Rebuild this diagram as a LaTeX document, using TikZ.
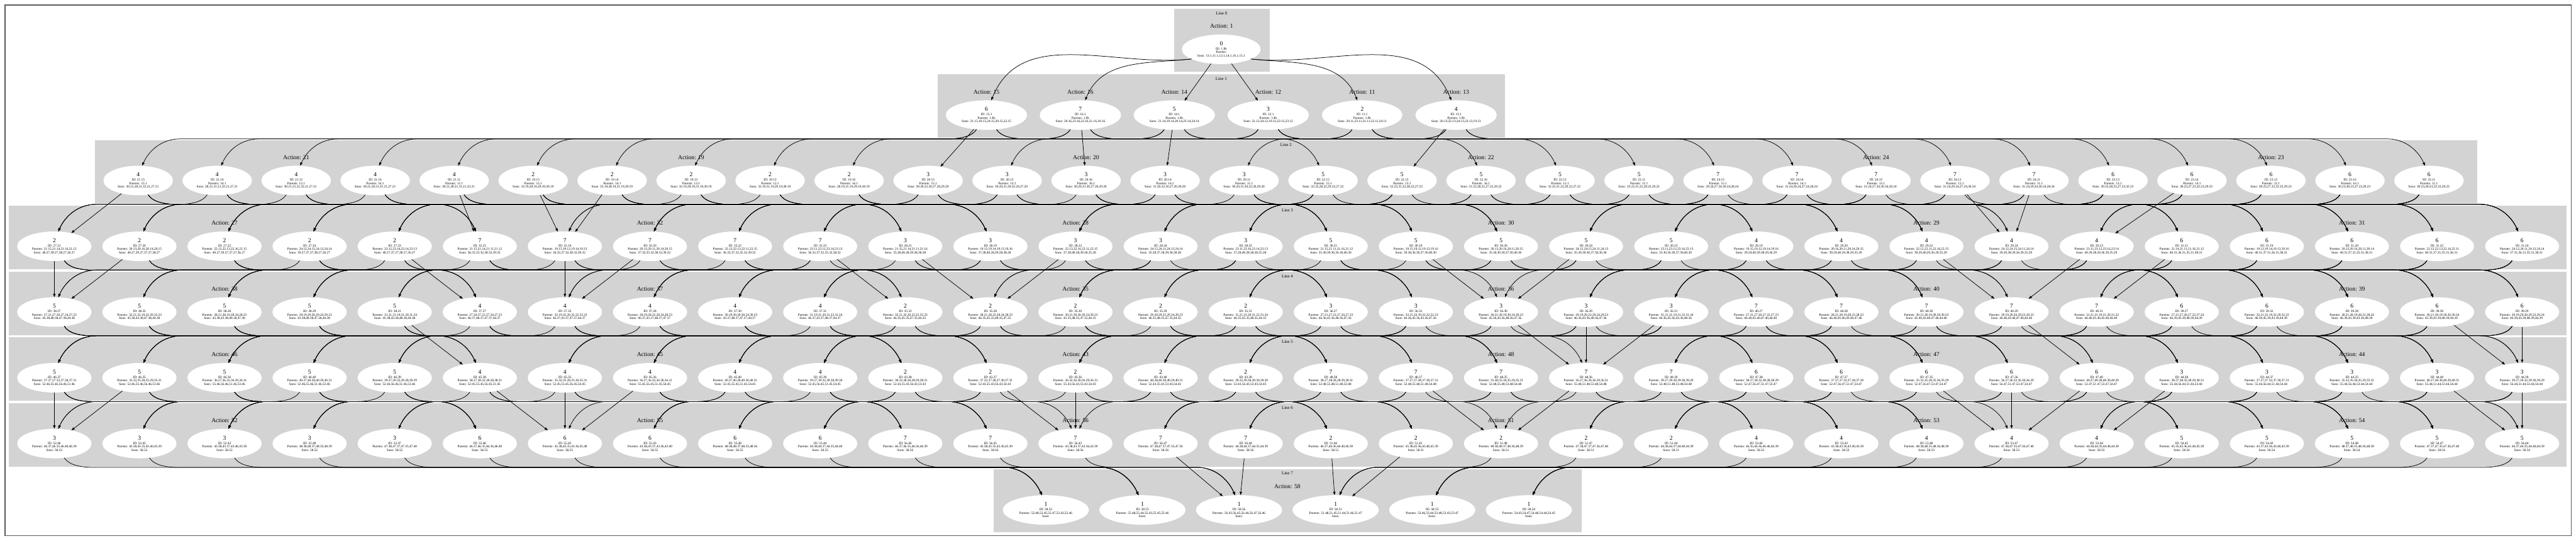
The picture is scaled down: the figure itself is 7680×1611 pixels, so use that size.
\documentclass[tikz,border=0pt]{standalone}
\usepackage{fontspec}
\setmainfont{Liberation Serif}
\usetikzlibrary{arrows.meta,shapes.geometric}
\definecolor{lgray}{HTML}{D3D3D3}
\newcommand\sfnt{\fontsize{10}{10.5}\selectfont}
\newcommand\bfnt{\fontsize{18}{18}\selectfont}
\newcommand\afnt{\fontsize{18}{20}\selectfont}
\newcommand\lfnt{\fontsize{13}{14}\selectfont}
\newif\ifedges \edgestrue
\newcount\gidx
\tikzset{
  nd/.style={ellipse, fill=white, draw=none, inner xsep=12bp, inner ysep=2bp, minimum height=88bp, align=center, font=\sfnt},
  edge/.style={line width=1.4bp, -{Triangle[length=10bp,width=7bp]}},
  clus/.style={fill=lgray, draw=lgray},
  alab/.style={font=\afnt, inner sep=0pt},
  llab/.style={font=\lfnt, inner sep=0pt},
}
% edge from parent (a.b) to current node \cname
\def\mke#1.#2\relax{%
  \edef\pa{#1-#2}%
  \edef\xa{\csname px@\pa\endcsname}%
  \edef\ya{\csname py@\pa\endcsname}%
  \edef\xb{\csname px@\cname\endcsname}%
  \pgfmathsetmacro\dx{\xb-\xa}%
  \pgfmathsetmacro\ad{abs(\dx)}%
  \pgfmathtruncatemacro\s{sign(\dx)}%
  \ifdim\ya pt<200pt
    \ifdim\ad pt<200pt \draw[edge] (\pa) -- (\cname);
    \else
      \pgfmathtruncatemacro\aa{-90+\s*72}%
      \pgfmathtruncatemacro\oo{-90+\s*84}%
      \pgfmathtruncatemacro\ii{90+\s*22}%
      \pgfmathtruncatemacro\ee{90+\s*18}%
      \draw[edge] (\pa.\aa) to[out=\oo,in=\ii] (\cname.\ee);
    \fi
  \else
    \ifdim\ad pt<300pt \draw[edge] (\pa) -- (\cname);
    \else
      \pgfmathtruncatemacro\aa{-90+\s*35}%
      \pgfmathtruncatemacro\ee{90+\s*15}%
      \pgfmathsetmacro\g{\ya+71}%
      \pgfmathsetmacro\xs{\xa+\s*115}%
      \pgfmathsetmacro\xe{\xb-\s*125}%
      \pgfmathsetmacro\ca{\s*12}%
      \pgfmathsetmacro\cb{-\s*40}%
      \pgfmathsetmacro\cc{\s*55}%
      \pgfmathsetmacro\cd{-\s*20}%
      \draw[edge] (\pa.\aa) .. controls +(\ca,20) and +(\cb,0) .. (\xs,\g) -- (\xe,\g) .. controls +(\cc,0) and +(\cd,-45) .. (\cname.\ee);
    \fi
  \fi}
% node: #1 index, #2 big number, #3 action, #4 suffix, #5 parents, #6 sons
\newcommand\mkn[6]{%
  \pgfmathsetmacro\nx{\Lx+#1*\Lp}%
  \node[nd] (#3-#4) at (\nx,\Ly) {{\bfnt #2}\\[3bp]ID: #3.#4\\Parents: #5\\Sons: #6};%
  \expandafter\xdef\csname px@#3-#4\endcsname{\nx}%
  \expandafter\xdef\csname py@#3-#4\endcsname{\Ly}%
  \def\cname{#3-#4}%
  \ifedges\foreach \p in {#5}{\expandafter\mke\p\relax}\fi
}
\newcommand\alabel[2]{\node[alab] at ({\Lx+#1*\Lp},{\Ly-69}) {Action: #2};}
% generate a line: #1 this line's actions, #2 previous line, #3 line before, #4 next line
\newcommand\genline[4]{%
  \global\gidx=0
  \foreach \D in {#1}{%
    \pgfmathtruncatemacro\sD{mod(\D,8)}%
    \pgfmathtruncatemacro\bn{mod(\D-3,8)+2}%
    \foreach \C in {#2}{%
      \pgfmathtruncatemacro\sC{mod(\C,8)}%
      \ifnum\sC=\sD\relax\else
        \gdef\plist{}%
        \foreach \A in {#3}{%
          \pgfmathtruncatemacro\sA{mod(\A,8)}%
          \ifnum\sA=\sC\relax\else\ifnum\sA=\sD\relax\else
            \ifx\plist\empty\xdef\plist{\C.\A}\else\xdef\plist{\plist,\C.\A}\fi
          \fi\fi}%
        \gdef\slist{}%
        \foreach \E in {#4}{%
          \pgfmathtruncatemacro\sE{mod(\E,8)}%
          \ifnum\E=58\relax\xdef\slist{58.\D}\else
          \ifnum\sE=\sC\relax\else\ifnum\sE=\sD\relax\else
            \ifx\slist\empty\xdef\slist{\E.\D}\else\xdef\slist{\slist,\E.\D}\fi
          \fi\fi\fi}%
        \edef\tmp{\noexpand\mkn{\the\gidx}{\bn}{\D}{\C}{\plist}{\slist}}\tmp
        \global\advance\gidx by 1
      \fi}}%
}
\begin{document}
\begin{tikzpicture}[x=1bp,y=-1bp]
\useasboundingbox (0,0) rectangle (7680,1611);
\fill[white] (0,0) rectangle (7680,1611);
\draw[line width=2bp, draw=black!65] (15,15) rectangle (7665,1596);
% clusters
\fill[clus] (3500,26) rectangle (3784,213);
\fill[clus] (2796,222) rectangle (4486,409);
\fill[clus] (284,418) rectangle (7384,604);
\fill[clus] (27,614) rectangle (7650,801);
\fill[clus] (27,810) rectangle (7650,997);
\fill[clus] (27,1006) rectangle (7650,1193);
\fill[clus] (27,1202) rectangle (7650,1389);
\fill[clus] (2963,1398) rectangle (4713,1585);
% line labels
\node[llab] at (3642,39) {Line 0};
\node[llab] at (3641,235) {Line 1};
\node[llab] at (3834,432) {Line 2};
\node[llab] at (3838,627) {Line 3};
\node[llab] at (3838,823) {Line 4};
\node[llab] at (3838,1019) {Line 5};
\node[llab] at (3838,1215) {Line 6};
\node[llab] at (3838,1411) {Line 7};
% Line 0
\node[alab] at (3642,78) {Action: 1};
\node[nd] (1-Rt) at (3641,147) {{\bfnt 0}\\[3bp]ID: 1.Rt\\Parents: \\Sons: 13.1,11.1,12.1,14.1,16.1,15.1};
\expandafter\xdef\csname px@1-Rt\endcsname{3641}
\expandafter\xdef\csname py@1-Rt\endcsname{147}
% Line 1
\def\Lx{2941}\def\Lp{280}\def\Ly{343}
\foreach \i/\a in {0/15,1/16,2/14,3/12,4/11,5/13}{\node[alab] at ({\Lx+\i*\Lp},{\Ly-69}) {Action: \a};}
\mkn{0}{6}{15}{1}{1.Rt}{21.15,19.15,24.15,20.15,22.15}
\mkn{1}{7}{16}{1}{1.Rt}{20.16,23.16,22.16,21.16,19.16}
\mkn{2}{5}{14}{1}{1.Rt}{21.14,19.14,20.14,23.14,24.14}
\mkn{3}{3}{12}{1}{1.Rt}{21.12,24.12,19.12,22.12,23.12}
\mkn{4}{2}{11}{1}{1.Rt}{20.11,23.11,21.11,22.11,24.11}
\mkn{5}{4}{13}{1}{1.Rt}{20.13,22.13,24.13,23.13,19.13}
% Line 2
\def\Lx{412}\def\Lp{235.5}\def\Ly{538}
\alabel{2}{21}\alabel{7}{19}\alabel{12}{20}\alabel{17}{22}\alabel{22}{24}\alabel{27}{23}
\mkn{0}{4}{21}{15}{15.1}{30.21,28.21,32.21,27.21}
\mkn{1}{4}{21}{14}{14.1}{28.21,31.21,32.21,27.21}
\mkn{2}{4}{21}{12}{12.1}{30.21,31.21,32.21,27.21}
\mkn{3}{4}{21}{16}{16.1}{30.21,28.21,31.21,27.21}
\mkn{4}{4}{21}{11}{11.1}{30.21,28.21,31.21,32.21}
\mkn{5}{2}{19}{15}{15.1}{32.19,28.19,29.19,30.19}
\mkn{6}{2}{19}{14}{14.1}{32.19,28.19,31.19,29.19}
\mkn{7}{2}{19}{13}{13.1}{32.19,28.19,31.19,30.19}
\mkn{8}{2}{19}{12}{12.1}{32.19,31.19,29.19,30.19}
\mkn{9}{2}{19}{16}{16.1}{28.19,31.19,29.19,30.19}
\mkn{10}{3}{20}{15}{15.1}{30.20,32.20,27.20,29.20}
\mkn{11}{3}{20}{13}{13.1}{30.20,31.20,32.20,27.20}
\mkn{12}{3}{20}{16}{16.1}{30.20,31.20,27.20,29.20}
\mkn{13}{3}{20}{14}{14.1}{31.20,32.20,27.20,29.20}
\mkn{14}{3}{20}{11}{11.1}{30.20,31.20,32.20,29.20}
\mkn{15}{5}{22}{15}{15.1}{32.22,28.22,29.22,27.22}
\mkn{16}{5}{22}{13}{13.1}{32.22,31.22,28.22,27.22}
\mkn{17}{5}{22}{16}{16.1}{31.22,28.22,27.22,29.22}
\mkn{18}{5}{22}{12}{12.1}{32.22,31.22,29.22,27.22}
\mkn{19}{5}{22}{11}{11.1}{32.22,31.22,28.22,29.22}
\mkn{20}{7}{24}{15}{15.1}{29.24,27.24,30.24,28.24}
\mkn{21}{7}{24}{14}{14.1}{31.24,29.24,27.24,28.24}
\mkn{22}{7}{24}{13}{13.1}{31.24,27.24,30.24,28.24}
\mkn{23}{7}{24}{12}{12.1}{31.24,29.24,27.24,30.24}
\mkn{24}{7}{24}{11}{11.1}{31.24,29.24,30.24,28.24}
\mkn{25}{6}{23}{13}{13.1}{30.23,28.23,27.23,32.23}
\mkn{26}{6}{23}{14}{14.1}{28.23,27.23,32.23,29.23}
\mkn{27}{6}{23}{12}{12.1}{30.23,27.23,32.23,29.23}
\mkn{28}{6}{23}{16}{16.1}{30.23,28.23,27.23,29.23}
\mkn{29}{6}{23}{11}{11.1}{30.23,28.23,32.23,29.23}
% Line 3
\def\Lx{162}\def\Lp{253.7}\def\Ly{734}
\alabel{2}{27}\alabel{7}{32}\alabel{12}{28}\alabel{17}{30}\alabel{22}{29}\alabel{27}{31}
\mkn{0}{2}{27}{21}{21.15,21.14,21.16,21.12}{40.27,39.27,38.27,36.27}
\mkn{1}{2}{27}{20}{20.13,20.16,20.14,20.15}{40.27,39.27,37.27,38.27}
\mkn{2}{2}{27}{22}{22.12,22.13,22.16,22.15}{40.27,39.27,37.27,36.27}
\mkn{3}{2}{27}{24}{24.12,24.15,24.13,24.14}{39.27,37.27,38.27,36.27}
\mkn{4}{2}{27}{23}{23.12,23.16,23.14,23.13}{40.27,37.27,38.27,36.27}
\mkn{5}{7}{32}{21}{21.15,21.14,21.11,21.12}{36.32,35.32,38.32,39.32}
\mkn{6}{7}{32}{19}{19.15,19.12,19.14,19.13}{36.32,37.32,38.32,39.32}
\mkn{7}{7}{32}{20}{20.13,20.11,20.14,20.15}{37.32,35.32,38.32,39.32}
\mkn{8}{7}{32}{22}{22.12,22.13,22.11,22.15}{36.32,37.32,35.32,39.32}
\mkn{9}{7}{32}{23}{23.11,23.12,23.14,23.13}{36.32,37.32,35.32,38.32}
\mkn{10}{3}{28}{21}{21.15,21.14,21.11,21.16}{35.28,40.28,39.28,38.28}
\mkn{11}{3}{28}{19}{19.15,19.14,19.13,19.16}{37.28,40.28,39.28,38.28}
\mkn{12}{3}{28}{22}{22.13,22.16,22.11,22.15}{37.28,40.28,39.28,35.28}
\mkn{13}{3}{28}{24}{24.15,24.11,24.13,24.14}{35.28,37.28,39.28,38.28}
\mkn{14}{3}{28}{23}{23.11,23.16,23.14,23.13}{37.28,40.28,38.28,35.28}
\mkn{15}{5}{30}{21}{21.15,21.11,21.16,21.12}{35.30,39.30,36.30,40.30}
\mkn{16}{5}{30}{19}{19.15,19.12,19.13,19.16}{39.30,36.30,37.30,40.30}
\mkn{17}{5}{30}{20}{20.13,20.16,20.11,20.15}{35.30,39.30,37.30,40.30}
\mkn{18}{5}{30}{24}{24.12,24.15,24.11,24.13}{35.30,39.30,37.30,36.30}
\mkn{19}{5}{30}{23}{23.11,23.12,23.16,23.13}{35.30,36.30,37.30,40.30}
\mkn{20}{4}{29}{19}{19.15,19.12,19.14,19.16}{39.29,40.29,38.29,36.29}
\mkn{21}{4}{29}{20}{20.16,20.11,20.14,20.15}{39.29,40.29,38.29,35.29}
\mkn{22}{4}{29}{22}{22.12,22.11,22.16,22.15}{39.29,40.29,36.29,35.29}
\mkn{23}{4}{29}{24}{24.12,24.15,24.11,24.14}{39.29,38.29,36.29,35.29}
\mkn{24}{4}{29}{23}{23.11,23.12,23.16,23.14}{40.29,38.29,36.29,35.29}
\mkn{25}{6}{31}{21}{21.14,21.11,21.16,21.12}{40.31,36.31,35.31,38.31}
\mkn{26}{6}{31}{19}{19.12,19.14,19.13,19.16}{40.31,37.31,36.31,38.31}
\mkn{27}{6}{31}{20}{20.13,20.16,20.11,20.14}{40.31,37.31,35.31,38.31}
\mkn{28}{6}{31}{22}{22.12,22.13,22.16,22.11}{40.31,37.31,35.31,36.31}
\mkn{29}{6}{31}{24}{24.12,24.11,24.13,24.14}{37.31,36.31,35.31,38.31}
% Line 4
\def\Ly{930}
\alabel{2}{38}\alabel{7}{37}\alabel{12}{35}\alabel{17}{36}\alabel{22}{40}\alabel{27}{39}
\genline{38,37,35,36,40,39}{27,32,28,30,29,31}{21,19,20,22,24,23}{46,45,43,48,47,44}
% Line 5
\def\Ly{1126}
\alabel{2}{46}\alabel{7}{45}\alabel{12}{43}\alabel{17}{48}\alabel{22}{47}\alabel{27}{44}
\genline{46,45,43,48,47,44}{38,37,35,36,40,39}{27,32,28,30,29,31}{52,55,56,51,53,54}
% Line 6
\def\Ly{1322}
\alabel{2}{52}\alabel{7}{55}\alabel{12}{56}\alabel{17}{51}\alabel{22}{53}\alabel{27}{54}
\genline{52,55,56,51,53,54}{46,45,43,48,47,44}{38,37,35,36,40,39}{58}
% Line 7
\def\Lx{3118}\def\Lp{288}\def\Ly{1520}
\node[alab] at (3838,1450) {Action: 58};
\mkn{0}{1}{58}{52}{52.48,52.45,52.47,52.43,52.46}{}
\mkn{1}{1}{58}{55}{55.48,55.44,55.43,55.45,55.46}{}
\mkn{2}{1}{58}{56}{56.43,56.45,56.44,56.47,56.46}{}
\mkn{3}{1}{58}{51}{51.48,51.45,51.44,51.46,51.47}{}
\mkn{4}{1}{58}{53}{53.46,53.44,53.48,53.43,53.47}{}
\mkn{5}{1}{58}{54}{54.43,54.47,54.48,54.44,54.45}{}
\end{tikzpicture}
\end{document}
